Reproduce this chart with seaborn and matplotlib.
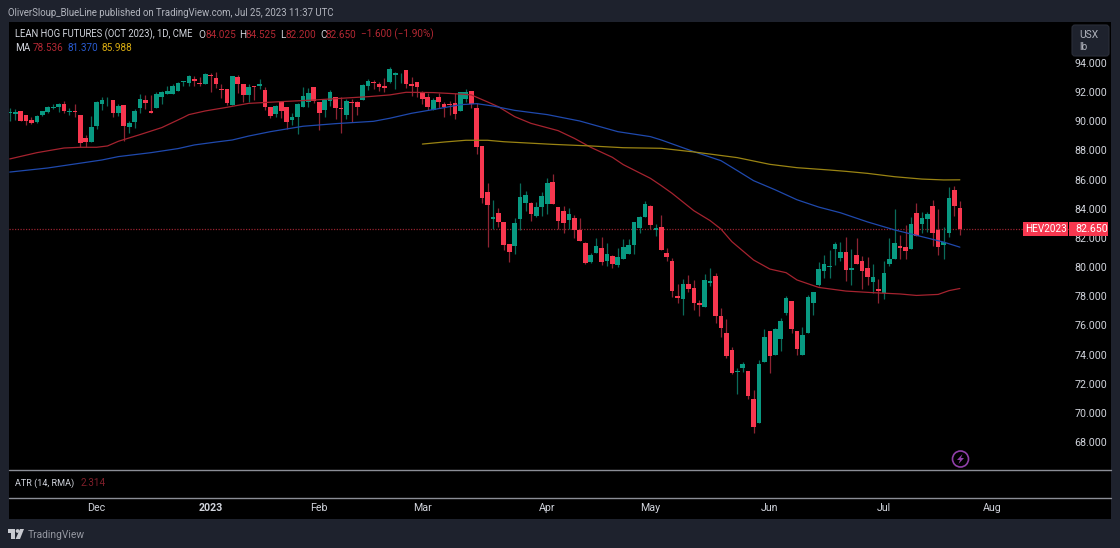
"""Lean hog futures daily candles with three moving averages, TradingView look."""

import matplotlib

matplotlib.use("Agg")

import matplotlib.patches as patches
import matplotlib.pyplot as plt
import numpy as np
import pandas as pd
import seaborn as sns

W, H = 1120, 548

# Daily candles, Nov 2022 to 24 Jul 2023.
opens = [
    90.55, 90.48, 90.69, 90.42, 90.10, 89.93, 90.44, 90.64, 90.92, 90.99,
    91.19, 90.67, 90.71, 90.42, 88.84, 88.61, 89.68, 91.17, 91.51, 91.47,
    90.55, 91.12, 89.64, 89.98, 90.92, 91.47, 90.71, 90.92, 91.70, 91.88,
    91.88, 92.11, 92.68, 92.61, 92.91, 92.66, 92.56, 93.20, 92.98, 92.22,
    92.20, 91.12, 93.02, 92.56, 91.81, 92.43, 92.45, 92.15, 91.01, 90.51,
    91.33, 91.01, 90.12, 90.30, 90.99, 91.31, 92.36, 91.33, 90.78, 91.42,
    91.70, 90.94, 90.44, 91.33, 91.31, 91.47, 92.40, 92.70, 92.56, 92.43,
    92.72, 93.20, 93.16, 93.50, 92.56, 92.70, 92.02, 91.70, 90.78, 91.70,
    91.19, 91.19, 91.26, 90.74, 91.51, 92.08, 90.94, 88.31, 85.15, 83.28,
    83.69, 83.10, 81.59, 81.47, 83.28, 84.38, 84.38, 83.48, 84.10, 84.35,
    85.82, 84.15, 83.83, 83.23, 83.37, 82.55, 81.68, 80.37, 80.99, 81.29,
    80.44, 80.76, 80.17, 80.58, 80.92, 81.52, 82.66, 83.46, 84.22, 82.52,
    82.78, 80.97, 80.42, 78.00, 77.81, 78.87, 78.57, 77.54, 77.29, 78.93,
    79.39, 76.67, 75.48, 74.34, 72.81, 73.08, 72.88, 70.96, 69.29, 73.49,
    75.60, 73.97, 75.07, 76.83, 77.65, 75.60, 74.00, 75.50, 77.52, 78.77,
    79.71, 79.99, 81.22, 80.60, 81.02, 79.83, 80.83, 80.44, 79.92, 79.00,
    78.48, 78.25, 80.21, 80.54, 81.45, 81.36, 81.22, 83.73, 82.94, 83.32,
    84.22, 82.55, 81.54, 82.32, 85.29, 84.025,
]
highs = [
    90.90, 90.83, 90.69, 90.42, 90.28, 90.44, 90.74, 91.06, 91.17, 91.24,
    91.42, 90.92, 91.19, 90.42, 89.07, 90.37, 91.38, 91.65, 91.65, 91.47,
    91.19, 91.12, 90.05, 90.83, 91.88, 91.79, 91.79, 92.04, 92.11, 92.43,
    92.56, 92.70, 92.77, 93.20, 93.11, 93.02, 93.34, 93.30, 93.39, 92.56,
    92.20, 93.11, 93.18, 92.56, 92.56, 92.43, 92.93, 92.38, 91.01, 91.12,
    91.33, 91.01, 90.55, 91.28, 92.38, 92.27, 92.36, 91.33, 91.51, 92.15,
    91.70, 91.65, 91.51, 91.56, 91.42, 92.56, 92.93, 92.84, 92.73, 92.95,
    93.75, 93.39, 93.34, 93.50, 93.02, 92.70, 92.11, 91.92, 91.58, 91.92,
    91.35, 91.42, 91.92, 91.99, 92.20, 92.08, 91.24, 88.31, 85.79, 84.60,
    84.06, 83.10, 81.59, 83.35, 85.75, 85.20, 84.49, 84.49, 85.15, 86.09,
    86.39, 84.15, 84.19, 84.03, 83.55, 83.35, 81.75, 80.99, 81.98, 82.04,
    81.63, 80.83, 81.29, 81.91, 81.91, 83.10, 83.51, 84.51, 84.26, 82.96,
    83.55, 81.29, 80.60, 78.84, 79.16, 79.46, 79.12, 77.75, 79.53, 79.92,
    79.62, 77.17, 76.42, 74.50, 73.06, 73.49, 72.88, 71.57, 73.63, 75.73,
    75.60, 75.80, 76.49, 78.02, 77.65, 75.60, 75.87, 78.09, 78.32, 80.35,
    80.83, 81.17, 81.75, 81.75, 82.09, 81.22, 82.02, 80.76, 80.67, 80.21,
    79.18, 80.40, 81.97, 83.99, 82.20, 82.89, 83.42, 84.42, 83.80, 83.80,
    84.60, 83.96, 82.73, 85.47, 85.56, 84.525,
]
lows = [
    90.03, 90.10, 90.00, 89.73, 89.82, 89.91, 90.37, 90.55, 90.83, 90.67,
    90.55, 90.42, 90.32, 88.22, 88.27, 88.61, 89.45, 90.78, 91.06, 90.28,
    90.39, 88.68, 89.23, 89.55, 90.60, 90.87, 90.55, 90.90, 91.19, 91.88,
    91.88, 92.11, 92.43, 92.43, 92.43, 92.43, 92.56, 92.04, 92.27, 91.58,
    91.12, 91.12, 91.92, 91.35, 91.35, 91.47, 92.20, 90.78, 90.21, 90.32,
    90.21, 89.45, 89.75, 89.14, 90.99, 91.01, 91.24, 89.41, 90.28, 91.06,
    90.14, 89.23, 90.14, 89.98, 90.44, 91.47, 92.15, 92.20, 92.11, 92.02,
    92.61, 92.20, 92.66, 92.27, 91.74, 91.70, 91.19, 90.78, 90.78, 90.90,
    90.32, 90.44, 90.19, 90.74, 91.35, 90.94, 87.76, 84.38, 81.40, 82.59,
    82.73, 81.18, 80.37, 80.90, 82.55, 83.87, 83.19, 83.46, 83.51, 83.64,
    84.31, 82.64, 82.32, 82.59, 82.02, 81.82, 80.21, 80.31, 80.95, 80.15,
    80.08, 79.92, 79.99, 80.58, 80.92, 80.90, 82.36, 83.42, 82.64, 82.14,
    81.18, 80.44, 77.97, 77.56, 76.72, 78.29, 77.06, 76.67, 77.29, 78.71,
    76.15, 75.18, 73.74, 72.67, 71.30, 72.81, 70.93, 68.60, 69.29, 73.49,
    72.74, 73.97, 74.22, 76.72, 75.46, 73.97, 74.00, 75.50, 76.69, 78.71,
    79.23, 79.23, 80.15, 80.44, 79.05, 78.77, 80.19, 78.52, 78.77, 78.25,
    77.56, 77.79, 80.08, 80.54, 80.54, 80.54, 81.22, 82.14, 82.32, 82.43,
    81.45, 80.81, 80.58, 82.09, 83.53, 82.20,
]
closes = [
    90.62, 90.67, 90.03, 90.03, 89.87, 90.37, 90.69, 90.99, 90.99, 91.19,
    90.69, 90.74, 90.64, 88.49, 88.61, 89.64, 91.31, 91.47, 91.56, 90.58,
    91.08, 89.68, 89.89, 90.71, 91.56, 91.26, 90.58, 91.88, 92.04, 92.11,
    92.45, 92.66, 92.75, 93.11, 92.77, 92.56, 93.27, 93.14, 92.56, 92.15,
    91.24, 93.11, 92.56, 91.81, 92.38, 92.34, 92.56, 91.01, 90.39, 91.06,
    90.74, 89.93, 90.32, 91.19, 91.74, 91.97, 91.42, 90.60, 91.47, 92.04,
    90.92, 90.83, 91.42, 91.26, 90.99, 92.50, 92.79, 92.61, 92.34, 92.29,
    93.59, 93.32, 93.20, 92.56, 92.43, 92.36, 91.56, 90.99, 91.47, 91.33,
    90.99, 91.10, 90.51, 91.99, 92.02, 91.19, 88.27, 84.72, 84.26, 83.44,
    83.10, 81.54, 81.06, 83.03, 84.83, 84.92, 83.62, 84.10, 84.88, 85.77,
    84.31, 83.14, 83.00, 83.64, 82.55, 81.82, 80.28, 80.83, 81.45, 80.35,
    80.90, 80.24, 80.69, 81.36, 81.52, 83.10, 83.44, 84.35, 82.91, 82.68,
    81.18, 80.72, 78.36, 77.86, 78.87, 78.52, 77.52, 77.40, 79.12, 79.05,
    76.65, 75.85, 73.93, 72.74, 72.90, 73.38, 71.16, 69.06, 73.33, 75.18,
    73.88, 75.73, 76.31, 77.88, 75.73, 74.41, 75.34, 77.97, 78.27, 79.85,
    80.21, 80.08, 81.59, 81.04, 79.80, 79.96, 80.19, 79.73, 79.30, 79.35,
    78.39, 79.58, 80.54, 81.68, 81.34, 81.13, 82.96, 82.16, 83.35, 83.62,
    82.32, 81.40, 81.70, 84.72, 84.22, 82.650,
]

# Moving averages, sampled along each line by bar number.
ma_red_bars = [0, 5, 10, 13, 16, 18, 20, 24, 28, 32, 33, 36, 40, 44, 50, 56, 62, 66, 70, 73, 78, 83, 85,
               88, 90, 93, 96, 101, 104, 107, 111, 113, 118, 120, 122, 126, 129, 131, 133, 137, 140, 143,
               145, 149, 154, 159, 164, 167, 171, 173, 175]
ma_red = [87.42, 87.85, 88.17, 88.22, 88.22, 88.31, 88.63, 89.09, 89.57, 90.27, 90.46, 90.71, 90.96, 91.23,
          91.35, 91.46, 91.60, 91.69, 91.81, 91.99, 91.97, 91.87, 91.81,
          91.33, 91.00, 90.32, 89.86, 89.36, 88.83, 88.22, 87.53, 87.03, 86.09, 85.59, 85.06,
          83.87, 83.19, 82.61, 81.75, 80.49, 79.87, 79.62, 79.12, 78.61, 78.36, 78.25, 78.16, 78.06,
          78.13, 78.39, 78.536]
ma_blue_bars = [0, 7, 17, 20, 26, 31, 34, 38, 41, 44, 48, 54, 60, 67, 70, 74, 79, 83, 86, 89, 93, 99, 105,
                112, 118, 120, 126, 131, 134, 137, 141, 145, 149, 153, 158, 163, 168, 172, 175]
ma_blue = [86.52, 86.80, 87.35, 87.58, 87.85, 88.13, 88.38, 88.58, 88.72, 88.99, 89.29, 89.66, 89.84, 90.00,
           90.21, 90.55, 90.87, 91.14, 91.21, 91.05, 90.75, 90.46, 90.02, 89.29, 88.95, 88.72, 87.92,
           87.30, 86.62, 85.93, 85.30, 84.62, 84.12, 83.73, 83.10, 82.55, 82.09, 81.72, 81.370]
ma_yellow_bars = [76, 80, 84, 88, 91, 100, 107, 113, 120, 126, 134, 140, 145, 151, 154, 158, 163, 168, 172, 175]
ma_yellow = [88.44, 88.58, 88.70, 88.70, 88.60, 88.42, 88.31, 88.19, 88.15, 87.90, 87.51, 87.05, 86.82, 86.66,
             86.57, 86.43, 86.20, 86.04, 85.98, 85.988]

price_ticks = [68, 70, 72, 74, 76, 78, 80, 82, 84, 86, 88, 90, 92, 94]
month_bars = [16, 37, 57, 76, 99, 118, 140, 161, 181]
month_labels = ["Dec", "2023", "Feb", "Mar", "Apr", "May", "Jun", "Jul", "Aug"]
last_close = 82.650

BG = "#1e222d"
TEXT = "#d1d4dc"
RED = "#f7374f"
GREEN = "#089981"
RED_WICK = "#8e2433"
GREEN_WICK = "#0a6b5a"
DIM_RED = "#b22833"
FONT = "Roboto"


def px_axes(fig, left, top, right, bottom, **kwargs):
    # pixel box measured from the top left of the picture
    return fig.add_axes(
        [left / W, 1 - bottom / H, (right - left) / W, (bottom - top) / H], **kwargs
    )


def main():
    sns.set_theme(style="dark")
    plt.rcParams["font.family"] = [FONT, "DejaVu Sans"]

    fig = plt.figure(figsize=(W / 100, H / 100), dpi=100, facecolor=BG)

    # Black panel behind every pane, then the panes on top.
    panel = px_axes(fig, 9, 22, 1111, 519)
    panel.set_facecolor("black")
    panel.set_xticks([])
    panel.set_yticks([])
    sns.despine(ax=panel, left=True, bottom=True)

    ax = px_axes(fig, 9, 22, 1069, 470, facecolor="none")
    ax_atr = px_axes(fig, 9, 470, 1069, 497, facecolor="none", sharex=ax)
    ax_time = px_axes(fig, 9, 497, 1069, 519, facecolor="none", sharex=ax)

    bars = np.arange(len(closes))
    candles = pd.DataFrame({"bar": bars, "open": opens, "high": highs, "low": lows, "close": closes})
    up = candles["close"] >= candles["open"]
    body_bottom = candles[["open", "close"]].min(axis=1)
    body_height = (candles["close"] - candles["open"]).abs()

    ax.vlines(bars, candles["low"], candles["high"],
              colors=np.where(up, GREEN_WICK, RED_WICK), linewidth=0.9, zorder=2)
    ax.bar(bars, body_height, bottom=body_bottom, width=0.86,
           color=np.where(up, GREEN, RED), linewidth=0, zorder=3)

    ax.axhline(last_close, color="#96222f", linewidth=0.9, linestyle=(0, (1, 1.2)), zorder=1)

    ma_lines = [
        (ma_red_bars, ma_red, "#a5232f"),
        (ma_blue_bars, ma_blue, "#1f49ad"),
        (ma_yellow_bars, ma_yellow, "#9a8413"),
    ]
    for ma_bars, ma_values, color in ma_lines:
        ma_frame = pd.DataFrame({"bar": ma_bars, "value": ma_values})
        sns.lineplot(data=ma_frame, x="bar", y="value", color=color, linewidth=0.9,
                     errorbar=None, legend=False, ax=ax, zorder=4)

    ax.set_xlim(-0.14, 195.1)
    ax.set_ylim(66.09, 96.81)
    ax.set_xlabel("")
    ax.set_ylabel("")
    ax.yaxis.tick_right()
    ax.set_yticks(price_ticks)
    ax.set_yticklabels([f"{tick:.3f}" for tick in price_ticks])
    ax.tick_params(axis="y", length=0, pad=4, labelsize=7.7, labelcolor=TEXT)
    ax.tick_params(axis="x", length=0, labelbottom=False)
    ax.grid(False)
    sns.despine(ax=ax, left=True, bottom=True, right=True, top=True)

    ax_atr.set_yticks([])
    ax_atr.tick_params(axis="x", length=0, labelbottom=False)
    sns.despine(ax=ax_atr, left=True, bottom=True)

    ax_time.set_ylim(0, 1)
    ax_time.set_yticks([])
    ax_time.set_xticks(month_bars)
    ax_time.set_xticklabels(month_labels)
    ax_time.tick_params(axis="x", length=0, pad=-11.8, labelsize=7.7, labelcolor=TEXT)
    for label_text in ax_time.get_xticklabels():
        if label_text.get_text() == "2023":
            label_text.set_fontweight("bold")
    sns.despine(ax=ax_time, left=True, bottom=True)

    # Overlay in picture pixels for the header, tags and logo.
    over = fig.add_axes([0, 0, 1, 1], facecolor="none", zorder=10)
    over.set_xlim(0, W)
    over.set_ylim(H, 0)
    over.axis("off")

    def label(x, y, text, color=TEXT, size=7.2, **kwargs):
        over.text(x, y, text, color=color, fontsize=size, va="center", **kwargs)

    for y in (470, 497.5):
        over.plot([9, 1111], [y, y], color="#8b8e96", linewidth=1.0)

    label(8, 12.5, "OliverSloup_BlueLine published on TradingView.com, Jul 25, 2023 11:37 UTC",
          color="#b2b5be", size=6.9)

    label(15, 34.5, "LEAN HOG FUTURES (OCT 2023), 1D, CME", size=6.85)
    for x, letter in [(198, "O"), (239, "H"), (280, "L"), (320, "C")]:
        label(x, 34.5, letter)
    for x, value in [(205, "84.025"), (246, "84.525"), (286, "82.200"), (326, "82.650"),
                     (361, "\u22121.600 (\u22121.90%)")]:
        label(x, 34.5, value, color=DIM_RED)

    label(15, 48, "MA")
    label(33, 48, "78.536", color=DIM_RED)
    label(68, 48, "81.370", color="#2a5bd0")
    label(102, 48, "85.988", color="#d8ab12")

    label(15, 483, "ATR (14, RMA)", size=6.6)
    label(81, 483, "2.314", color="#7f1f2a")

    # Unit box at the top of the price scale.
    over.add_patch(patches.FancyBboxPatch((1072, 25), 37, 31, boxstyle="round,pad=0,rounding_size=3",
                                          facecolor=BG, edgecolor="#2a2e39", linewidth=0.8))
    label(1079, 35, "USX", color="#b2b5be", size=7.4)
    label(1079, 47.5, "lb", color="#b2b5be", size=7.4)

    # Last price tags.
    over.add_patch(patches.Rectangle((1023, 222), 45, 14, facecolor=RED, edgecolor="none"))
    over.add_patch(patches.Rectangle((1069, 222), 39, 14, facecolor=RED, edgecolor="none"))
    label(1045.5, 229, "HEV2023", color="white", ha="center")
    label(1075, 229, "82.650", color="white", size=7.7)

    # Lightning icon.
    over.add_patch(patches.Circle((960.5, 459), 8, facecolor="none", edgecolor="#8f3fa8", linewidth=1.2))
    over.add_patch(patches.Polygon([(962.5, 454), (957, 460), (960, 460), (958.5, 464), (964, 458),
                                    (961, 458)], facecolor="#8f3fa8", edgecolor="none"))

    # TradingView logo and name.
    logo = "#c8cad0"
    over.add_patch(patches.Polygon([(8, 529), (15, 529), (15, 539), (11, 539), (11, 533), (8, 533)],
                                   facecolor=logo, edgecolor="none"))
    over.add_patch(patches.Circle((17.6, 531), 1.9, facecolor=logo, edgecolor="none"))
    over.add_patch(patches.Polygon([(20, 529), (24, 529), (20, 539), (15.6, 539)],
                                   facecolor=logo, edgecolor="none"))
    label(27.5, 534.5, "TradingView", color="#9598a1", size=7.4)

    fig.savefig("out.png", dpi=100, facecolor=BG)


if __name__ == "__main__":
    main()
